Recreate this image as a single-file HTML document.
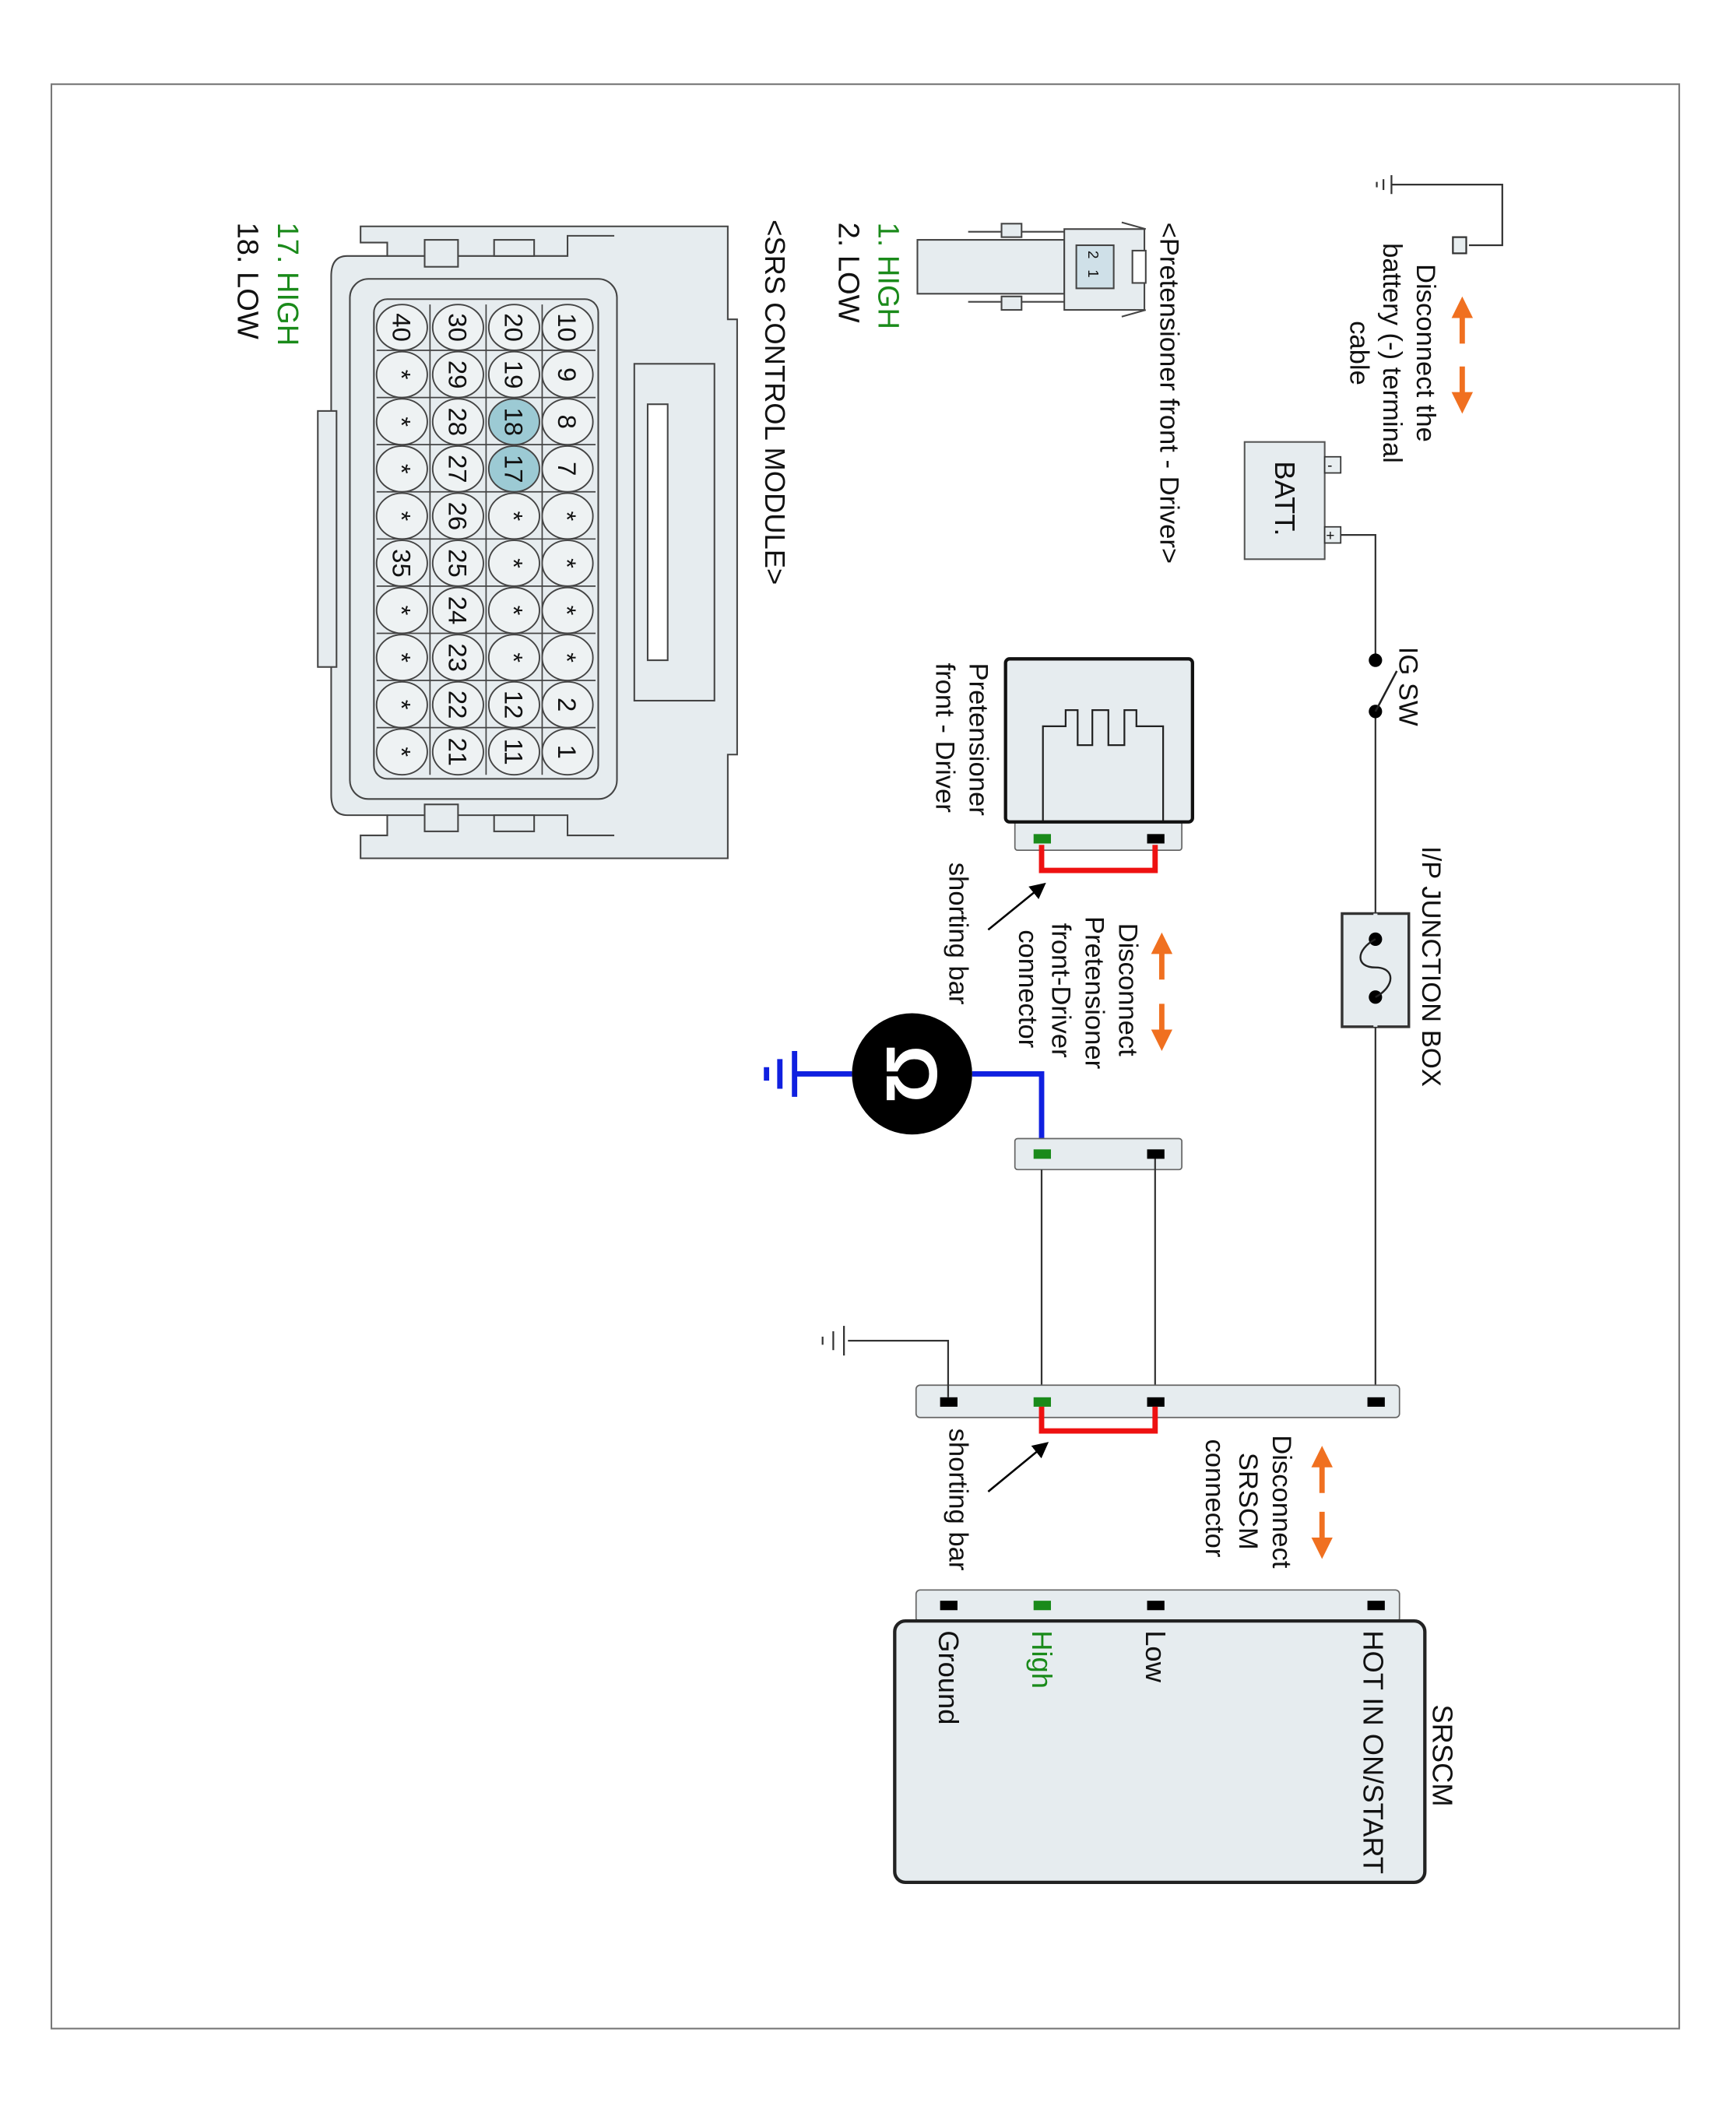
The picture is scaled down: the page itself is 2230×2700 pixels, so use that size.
<!DOCTYPE html>
<html><head><meta charset="utf-8"><style>
html,body{margin:0;padding:0;background:#fff}
svg{display:block}
text{font-family:"Liberation Sans",sans-serif;fill:#111}
.g{fill:#1a8a1a}
</style></head><body>
<svg width="2230" height="2700" viewBox="0 0 1300 1560" preserveAspectRatio="none" xmlns="http://www.w3.org/2000/svg">
<defs>
<marker id="ah" markerWidth="8" markerHeight="8" refX="6" refY="4" orient="auto"><path d="M0,0 L8,4 L0,8 Z" fill="#000"/></marker>
<marker id="oa" markerWidth="4" markerHeight="4" refX="1" refY="2" orient="auto"><path d="M0,0 L4,2 L0,4 Z" fill="#f07020"/></marker>
</defs>
<rect x="0" y="0" width="1300" height="1560" fill="#fff"/>
<rect x="38.5" y="62.5" width="1219" height="1443" fill="none" stroke="#777" stroke-width="1.2"/>

<!-- top ground & battery -->
<g stroke="#333" stroke-width="1.3" fill="none">
<path d="M1042,137 H1125 V182 H1100"/>
<line x1="1042" y1="130" x2="1042" y2="144"/><line x1="1036" y1="133" x2="1036" y2="141"/><line x1="1031" y1="135" x2="1031" y2="139"/>
<rect x="1088" y="176" width="10" height="12" fill="#e8eef0"/>
</g>
<g stroke="#f07020" stroke-width="4" fill="none">
<line x1="1095" y1="255" x2="1095" y2="232" marker-end="url(#oa)"/>
<line x1="1095" y1="272" x2="1095" y2="295" marker-end="url(#oa)"/>
</g>
<text font-size="20" transform="translate(1061,262) rotate(90)" text-anchor="middle">Disconnect the</text>
<text font-size="20" transform="translate(1036,262) rotate(90)" text-anchor="middle">battery (-) terminal</text>
<text font-size="20" transform="translate(1011,262) rotate(90)" text-anchor="middle">cable</text>

<rect x="932" y="328" width="60" height="87" fill="#e6ecef" stroke="#555" stroke-width="1.2"/>
<text font-size="21" transform="translate(955,370) rotate(90)" text-anchor="middle">BATT.</text>
<rect x="992" y="339" width="12" height="12" fill="#e8eef0" stroke="#333"/>
<rect x="992" y="391" width="12" height="12" fill="#e8eef0" stroke="#333"/>
<text font-size="11" x="994" y="349">-</text><text font-size="11" x="993" y="401">+</text>

<g stroke="#333" stroke-width="1.3" fill="none">
<path d="M1004,397 H1030 V1040"/>
</g>
<rect x="1026" y="492" width="10" height="34" fill="#fff"/>
<circle cx="1030" cy="490" r="5" fill="#000"/><circle cx="1030" cy="528" r="5" fill="#000"/>
<line x1="1030" y1="528" x2="1046" y2="498" stroke="#222" stroke-width="1.5"/>
<text font-size="20" transform="translate(1048,480) rotate(90)">IG SW</text>

<rect x="1005" y="678" width="50" height="84" fill="#e6ecef" stroke="#333" stroke-width="2"/>
<line x1="1030" y1="678" x2="1030" y2="762" stroke="#e6ecef" stroke-width="3"/>
<circle cx="1030" cy="697" r="5" fill="#000"/><circle cx="1030" cy="740" r="5" fill="#000"/>
<path d="M1030,697 C1015,705 1015,718 1030,718 C1045,718 1045,732 1030,740" stroke="#222" stroke-width="1.4" fill="none"/>
<text font-size="20" transform="translate(1065,628) rotate(90)">I/P JUNCTION BOX</text>

<!-- pretensioner -->
<rect x="760" y="609" width="125" height="22" rx="2" fill="#e6ecef" stroke="#666"/>
<rect x="753" y="489" width="140" height="121" rx="3" fill="#e6ecef" stroke="#111" stroke-width="2.5"/>
<polyline points="781,609 781,539 798,539 798,527 807,527 807,553 818,553 818,527 830,527 830,553 842,553 842,527 851,527 851,539 871,539 871,609" fill="none" stroke="#222" stroke-width="1.3"/>
<rect x="774" y="619" width="13" height="7" fill="#1a8a1a"/><rect x="859" y="619" width="13" height="7" fill="#000"/>
<path d="M780,627 V646 H865 V627" stroke="#ee1111" stroke-width="4" fill="none"/>
<text font-size="20" transform="translate(726,492) rotate(90)">Pretensioner</text>
<text font-size="20" transform="translate(701,492) rotate(90)">front - Driver</text>
<text font-size="20" transform="translate(711,640) rotate(90)">shorting bar</text>
<line x1="740" y1="690" x2="781" y2="657" stroke="#000" stroke-width="1.5" marker-end="url(#ah)"/>
<g stroke="#f07020" stroke-width="4" fill="none">
<line x1="870" y1="727" x2="870" y2="704" marker-end="url(#oa)"/>
<line x1="870" y1="745" x2="870" y2="768" marker-end="url(#oa)"/>
</g>
<text font-size="20" transform="translate(838,685) rotate(90)">Disconnect</text>
<text font-size="20" transform="translate(813,680) rotate(90)">Pretensioner</text>
<text font-size="20" transform="translate(788,685) rotate(90)">front-Driver</text>
<text font-size="20" transform="translate(763,690) rotate(90)">connector</text>

<!-- ohm meter -->
<path d="M728,797 H780 V855" stroke="#1020e0" stroke-width="4" fill="none"/>
<path d="M638,797 H595" stroke="#1020e0" stroke-width="4" fill="none"/>
<g stroke="#1020e0" stroke-width="4"><line x1="595" y1="780" x2="595" y2="814"/><line x1="584" y1="786" x2="584" y2="808"/><line x1="574" y1="792" x2="574" y2="802"/></g>
<circle cx="683" cy="797" r="45" fill="#000"/>
<text font-size="54" font-weight="bold" transform="translate(664,797) rotate(90)" text-anchor="middle" style="fill:#fff">Ω</text>

<rect x="760" y="845" width="125" height="23" rx="2" fill="#e6ecef" stroke="#666"/>
<rect x="774" y="853" width="13" height="7" fill="#1a8a1a"/><rect x="859" y="853" width="13" height="7" fill="#000"/>
<g stroke="#333" stroke-width="1.3"><line x1="780" y1="868" x2="780" y2="1028"/><line x1="865" y1="860" x2="865" y2="1028"/></g>

<rect x="686" y="1028" width="362" height="24" rx="3" fill="#e6ecef" stroke="#666"/>
<rect x="704" y="1037" width="13" height="7" fill="#000"/><rect x="774" y="1037" width="13" height="7" fill="#1a8a1a"/><rect x="859" y="1037" width="13" height="7" fill="#000"/><rect x="1024" y="1037" width="13" height="7" fill="#000"/>
<path d="M710,1037 V995 H635" stroke="#333" stroke-width="1.3" fill="none"/>
<g stroke="#333" stroke-width="1.3"><line x1="632" y1="984" x2="632" y2="1006"/><line x1="624" y1="988" x2="624" y2="1002"/><line x1="616" y1="992" x2="616" y2="998"/></g>
<path d="M780,1044 V1062 H865 V1044" stroke="#ee1111" stroke-width="4" fill="none"/>
<text font-size="20" transform="translate(711,1060) rotate(90)">shorting bar</text>
<line x1="740" y1="1107" x2="783" y2="1072" stroke="#000" stroke-width="1.5" marker-end="url(#ah)"/>
<g stroke="#f07020" stroke-width="4" fill="none">
<line x1="990" y1="1108" x2="990" y2="1085" marker-end="url(#oa)"/>
<line x1="990" y1="1122" x2="990" y2="1145" marker-end="url(#oa)"/>
</g>
<text font-size="20" transform="translate(953,1065) rotate(90)">Disconnect</text>
<text font-size="20" transform="translate(928,1078) rotate(90)">SRSCM</text>
<text font-size="20" transform="translate(903,1068) rotate(90)">connector</text>

<rect x="686" y="1180" width="362" height="24" rx="3" fill="#e6ecef" stroke="#666"/>
<rect x="704" y="1188" width="13" height="7" fill="#000"/><rect x="774" y="1188" width="13" height="7" fill="#1a8a1a"/><rect x="859" y="1188" width="13" height="7" fill="#000"/><rect x="1024" y="1188" width="13" height="7" fill="#000"/>
<rect x="670" y="1203" width="397" height="194" rx="8" fill="#e6ecef" stroke="#222" stroke-width="2.5"/>
<text font-size="21" transform="translate(1073,1265) rotate(90)">SRSCM</text>
<text font-size="21" transform="translate(1021,1210) rotate(90)">HOT IN ON/START</text>
<text font-size="21" transform="translate(858,1210) rotate(90)">Low</text>
<text font-size="21" class="g" transform="translate(773,1210) rotate(90)">High</text>
<text font-size="21" transform="translate(703,1210) rotate(90)">Ground</text>

<!-- left: pretensioner connector drawing -->
<text font-size="20" transform="translate(869,165) rotate(90)">&lt;Pretensioner front - Driver&gt;</text>
<g stroke="#444" stroke-width="1.2" fill="#e6ecef">
<rect x="687" y="178" width="110" height="40"/>
<path d="M725,172 H800 V224 H725" fill="none"/>
<rect x="750" y="166" width="15" height="10"/><rect x="750" y="220" width="15" height="10"/>
<rect x="797" y="170" width="60" height="60"/>
<rect x="806" y="182" width="28" height="32" fill="#cfe0e8"/>
<rect x="848" y="186" width="10" height="24" fill="#fff"/>
<path d="M840,165 L858,170 M840,235 L858,230" fill="none"/>
</g>
<text font-size="11" transform="translate(815,186) rotate(90)">2</text>
<text font-size="11" transform="translate(815,200) rotate(90)">1</text>
<text font-size="22" class="g" transform="translate(658,165) rotate(90)">1. HIGH</text>
<text font-size="22" transform="translate(628,165) rotate(90)">2. LOW</text>
<text font-size="21" transform="translate(573,163) rotate(90)">&lt;SRS CONTROL MODULE&gt;</text>

<!-- big connector -->
<g stroke="#444" stroke-width="1.2" fill="#e6ecef">
<path d="M270,180 V168 H545 V237 H552 V560 H545 V637 H270 V620 H290 V605 H260 Q248,605 248,590 V205 Q248,190 260,190 H290 V180 Z"/>
<rect x="475" y="270" width="60" height="250"/>
<rect x="485" y="300" width="15" height="190" fill="#fff"/>
<rect x="238" y="305" width="14" height="190"/>
<path d="M290,190 H425 V175 H460" fill="none"/>
<path d="M290,605 H425 V620 H460" fill="none"/>
<rect x="318" y="178" width="25" height="20"/><rect x="370" y="178" width="30" height="12"/>
<rect x="318" y="597" width="25" height="20"/><rect x="370" y="605" width="30" height="12"/>
<rect x="262" y="207" width="200" height="386" rx="14"/>
<rect x="280" y="222" width="168" height="356" rx="10" fill="#e6ecef"/>
</g>
<g stroke="#444" stroke-width="1">
<line x1="322" y1="226" x2="322" y2="575"/><line x1="364" y1="226" x2="364" y2="575"/><line x1="406" y1="226" x2="406" y2="575"/>
<line x1="282" y1="260" x2="446" y2="260"/><line x1="282" y1="295" x2="446" y2="295"/><line x1="282" y1="330" x2="446" y2="330"/><line x1="282" y1="365" x2="446" y2="365"/><line x1="282" y1="400" x2="446" y2="400"/><line x1="282" y1="435" x2="446" y2="435"/><line x1="282" y1="470" x2="446" y2="470"/><line x1="282" y1="505" x2="446" y2="505"/><line x1="282" y1="540" x2="446" y2="540"/>
</g>
<g stroke="#444" stroke-width="1.1" fill="#eef2f3">
<ellipse cx="425" cy="243" rx="19" ry="17"/><ellipse cx="425" cy="278" rx="19" ry="17"/><ellipse cx="425" cy="313" rx="19" ry="17"/><ellipse cx="425" cy="348" rx="19" ry="17"/><ellipse cx="425" cy="383" rx="19" ry="17"/><ellipse cx="425" cy="418" rx="19" ry="17"/><ellipse cx="425" cy="453" rx="19" ry="17"/><ellipse cx="425" cy="488" rx="19" ry="17"/><ellipse cx="425" cy="523" rx="19" ry="17"/><ellipse cx="425" cy="558" rx="19" ry="17"/>
<ellipse cx="385" cy="243" rx="19" ry="17"/><ellipse cx="385" cy="278" rx="19" ry="17"/><ellipse cx="385" cy="313" rx="19" ry="17" fill="#9ccad4"/><ellipse cx="385" cy="348" rx="19" ry="17" fill="#9ccad4"/><ellipse cx="385" cy="383" rx="19" ry="17"/><ellipse cx="385" cy="418" rx="19" ry="17"/><ellipse cx="385" cy="453" rx="19" ry="17"/><ellipse cx="385" cy="488" rx="19" ry="17"/><ellipse cx="385" cy="523" rx="19" ry="17"/><ellipse cx="385" cy="558" rx="19" ry="17"/>
<ellipse cx="343" cy="243" rx="19" ry="17"/><ellipse cx="343" cy="278" rx="19" ry="17"/><ellipse cx="343" cy="313" rx="19" ry="17"/><ellipse cx="343" cy="348" rx="19" ry="17"/><ellipse cx="343" cy="383" rx="19" ry="17"/><ellipse cx="343" cy="418" rx="19" ry="17"/><ellipse cx="343" cy="453" rx="19" ry="17"/><ellipse cx="343" cy="488" rx="19" ry="17"/><ellipse cx="343" cy="523" rx="19" ry="17"/><ellipse cx="343" cy="558" rx="19" ry="17"/>
<ellipse cx="301" cy="243" rx="19" ry="17"/><ellipse cx="301" cy="278" rx="19" ry="17"/><ellipse cx="301" cy="313" rx="19" ry="17"/><ellipse cx="301" cy="348" rx="19" ry="17"/><ellipse cx="301" cy="383" rx="19" ry="17"/><ellipse cx="301" cy="418" rx="19" ry="17"/><ellipse cx="301" cy="453" rx="19" ry="17"/><ellipse cx="301" cy="488" rx="19" ry="17"/><ellipse cx="301" cy="523" rx="19" ry="17"/><ellipse cx="301" cy="558" rx="19" ry="17"/>
</g>
<g font-size="19" text-anchor="middle">
<text transform="translate(418,243) rotate(90)">10</text><text transform="translate(418,278) rotate(90)">9</text><text transform="translate(418,313) rotate(90)">8</text><text transform="translate(418,348) rotate(90)">7</text><text transform="translate(418,383) rotate(90)">*</text><text transform="translate(418,418) rotate(90)">*</text><text transform="translate(418,453) rotate(90)">*</text><text transform="translate(418,488) rotate(90)">*</text><text transform="translate(418,523) rotate(90)">2</text><text transform="translate(418,558) rotate(90)">1</text>
<text transform="translate(378,243) rotate(90)">20</text><text transform="translate(378,278) rotate(90)">19</text><text transform="translate(378,313) rotate(90)">18</text><text transform="translate(378,348) rotate(90)">17</text><text transform="translate(378,383) rotate(90)">*</text><text transform="translate(378,418) rotate(90)">*</text><text transform="translate(378,453) rotate(90)">*</text><text transform="translate(378,488) rotate(90)">*</text><text transform="translate(378,523) rotate(90)">12</text><text transform="translate(378,558) rotate(90)">11</text>
<text transform="translate(336,243) rotate(90)">30</text><text transform="translate(336,278) rotate(90)">29</text><text transform="translate(336,313) rotate(90)">28</text><text transform="translate(336,348) rotate(90)">27</text><text transform="translate(336,383) rotate(90)">26</text><text transform="translate(336,418) rotate(90)">25</text><text transform="translate(336,453) rotate(90)">24</text><text transform="translate(336,488) rotate(90)">23</text><text transform="translate(336,523) rotate(90)">22</text><text transform="translate(336,558) rotate(90)">21</text>
<text transform="translate(294,243) rotate(90)">40</text><text transform="translate(294,278) rotate(90)">*</text><text transform="translate(294,313) rotate(90)">*</text><text transform="translate(294,348) rotate(90)">*</text><text transform="translate(294,383) rotate(90)">*</text><text transform="translate(294,418) rotate(90)">35</text><text transform="translate(294,453) rotate(90)">*</text><text transform="translate(294,488) rotate(90)">*</text><text transform="translate(294,523) rotate(90)">*</text><text transform="translate(294,558) rotate(90)">*</text>
</g>
<text font-size="22" class="g" transform="translate(208,165) rotate(90)">17. HIGH</text>
<text font-size="22" transform="translate(178,165) rotate(90)">18. LOW</text>
</svg>
</body></html>
